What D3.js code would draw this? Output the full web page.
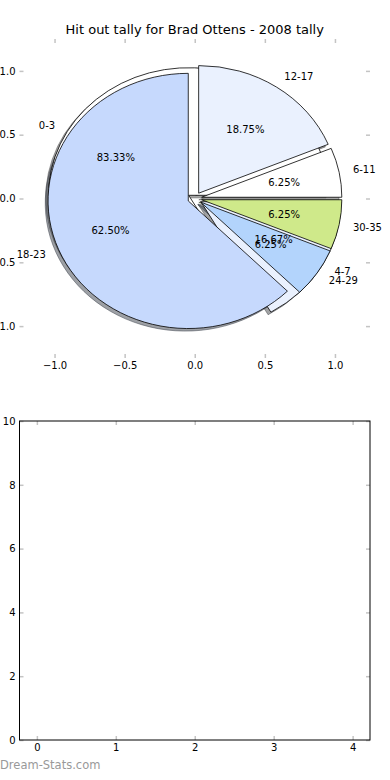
<!DOCTYPE html>
<html>
<head>
<meta charset="utf-8">
<script src="https://cdn.jsdelivr.net/npm/d3@7"></script>
<style>
body { margin: 0; background: #fff; }
text { font-family: "DejaVu Sans", sans-serif; }
</style>
</head>
<body>
<div id="chart"></div>
<script>
var title = "Hit out tally for Brad Ottens - 2008 tally";

// first pie, starts at 3 o'clock going anticlockwise (mostly hidden underneath)
var catsA = ["0-3", "4-7"];
var valsA = [5, 1];
var colorsA = ["#ffffff", "#eaf1fe"];

// second pie, drawn on top, clockwise from 12 o'clock
var catsB = ["12-17", "6-11", "30-35", "24-29", "18-23"];
var valsB = [3, 1, 1, 1, 10];
var colorsB = ["#eaf1fe", "#ffffff", "#cfe98a", "#b3d4fc", "#c6d9fd"];

var pieTicks = [-1.0, -0.5, 0.0, 0.5, 1.0];
var lowerXTicks = [0, 1, 2, 3, 4];
var lowerYTicks = [0, 2, 4, 6, 8, 10];

var explode = 0.05;
var svgWidth = 390, svgHeight = 780;
var left = 19.5, right = 370;
var tickGrey = "#c4c4c4";

var svg = d3.select("#chart")
    .append("svg")
    .attr("width", svgWidth)
    .attr("height", svgHeight);

// ---------- top axes (pie) ----------
var x = d3.scaleLinear().domain([-1.25, 1.25]).range([left, right]);
var y = d3.scaleLinear().domain([-1.25, 1.25]).range([358, 39]);
var kx = x(1) - x(0), ky = y(0) - y(1);

function styleAxis(g) {
    g.select(".domain").remove();
    g.selectAll(".tick line").attr("stroke", tickGrey).attr("stroke-width", 1.5);
    g.selectAll(".tick text").attr("fill", "#000").style("font-size", "10px")
        .style("font-family", "DejaVu Sans, sans-serif");
}

function drawTicks(xs, ys, xvals, yvals, xfmt, yfmt) {
    var x0 = xs.range()[0], x1 = xs.range()[1];
    var yb = ys.range()[0], yt = ys.range()[1];
    svg.append("g").attr("transform", "translate(0," + yb + ")")
        .call(d3.axisBottom(xs).tickValues(xvals).tickSize(-4).tickPadding(4).tickFormat(xfmt))
        .call(styleAxis);
    svg.append("g").attr("transform", "translate(0," + yt + ")")
        .call(d3.axisTop(xs).tickValues(xvals).tickSize(-4).tickFormat(""))
        .call(styleAxis);
    svg.append("g").attr("transform", "translate(" + x0 + ",0)")
        .call(d3.axisLeft(ys).tickValues(yvals).tickSize(-4).tickPadding(4).tickFormat(yfmt))
        .call(styleAxis);
    svg.append("g").attr("transform", "translate(" + x1 + ",0)")
        .call(d3.axisRight(ys).tickValues(yvals).tickSize(-4).tickFormat(""))
        .call(styleAxis);
}

drawTicks(x, y, pieTicks, pieTicks, d3.format(".1f"), d3.format(".1f"));

svg.append("text")
    .attr("x", x(0)).attr("y", 34)
    .attr("text-anchor", "middle")
    .style("font-size", "13px")
    .text(title);

function slices(cats, vals, colors, a0, a1) {
    var total = d3.sum(vals);
    var pie = d3.pie().sort(null).startAngle(a0).endAngle(a1);
    return pie(vals).map(function (d, i) {
        d.label = cats[i];
        d.color = colors[i];
        d.pct = d3.format(".2f")(vals[i] / total * 100) + "%";
        return d;
    });
}

var dataA = slices(catsA, valsA, colorsA, Math.PI / 2, Math.PI / 2 - 2 * Math.PI);
var dataB = slices(catsB, valsB, colorsB, 0, 2 * Math.PI);

var wedge = d3.arc().innerRadius(0).outerRadius(1);
var shift = d3.arc().innerRadius(explode).outerRadius(explode);
var labelArc = d3.arc().innerRadius(1.1).outerRadius(1.1);
var pctArc = d3.arc().innerRadius(0.6).outerRadius(0.6);

var pieG = svg.append("g")
    .attr("transform", "translate(" + x(0) + "," + y(0) + ") scale(" + kx + "," + ky + ")");

function shadowColor(c) {
    var r = d3.rgb(c);
    return d3.rgb(r.r * 0.3, r.g * 0.3, r.b * 0.3);
}

var all = dataA.concat(dataB);

// shadows go underneath every wedge
pieG.selectAll(".shadow")
    .data(all)
    .enter()
    .append("path")
    .attr("class", "shadow")
    .attr("d", wedge)
    .attr("transform", function (d) {
        var c = shift.centroid(d);
        return "translate(" + (c[0] - 0.02) + "," + (c[1] + 0.02) + ")";
    })
    .attr("fill", function (d) { return shadowColor(d.color); })
    .attr("fill-opacity", 0.5)
    .attr("stroke", function (d) { return shadowColor(d.color); })
    .attr("stroke-opacity", 0.5)
    .attr("vector-effect", "non-scaling-stroke");

pieG.selectAll(".wedge")
    .data(all)
    .enter()
    .append("path")
    .attr("class", "wedge")
    .attr("d", wedge)
    .attr("transform", function (d) {
        var c = shift.centroid(d);
        return "translate(" + c[0] + "," + c[1] + ")";
    })
    .attr("fill", function (d) { return d.color; })
    .attr("stroke", "#000")
    .attr("stroke-width", 0.8)
    .attr("stroke-linejoin", "round")
    .attr("vector-effect", "non-scaling-stroke");

// labels and percentages
all.forEach(function (d) {
    var c = shift.centroid(d);
    var l = labelArc.centroid(d);
    var p = pctArc.centroid(d);
    var lx = c[0] + l[0], ly = c[1] + l[1];
    svg.append("text")
        .attr("x", x(lx)).attr("y", y(-ly))
        .attr("text-anchor", lx > 0 ? "start" : "end")
        .attr("dominant-baseline", "central")
        .style("font-size", "10px")
        .text(d.label);
    svg.append("text")
        .attr("x", x(c[0] + p[0])).attr("y", y(-(c[1] + p[1])))
        .attr("text-anchor", "middle")
        .attr("dominant-baseline", "central")
        .style("font-size", "10px")
        .text(d.pct);
});

// ---------- bottom axes (empty) ----------
var xb = d3.scaleLinear().domain([-0.22, 4.22]).range([left, right]);
var yb = d3.scaleLinear().domain([0, 10]).range([740, 421]);

drawTicks(xb, yb, lowerXTicks, lowerYTicks, d3.format("d"), d3.format("d"));

svg.append("rect")
    .attr("x", left).attr("y", yb(10))
    .attr("width", right - left).attr("height", yb(0) - yb(10))
    .attr("fill", "none")
    .attr("stroke", "#000")
    .attr("stroke-width", 1);

svg.append("text")
    .attr("x", 0).attr("y", 769)
    .attr("fill", "#999")
    .style("font-size", "11.5px")
    .text("Dream-Stats.com");
</script>
</body>
</html>
